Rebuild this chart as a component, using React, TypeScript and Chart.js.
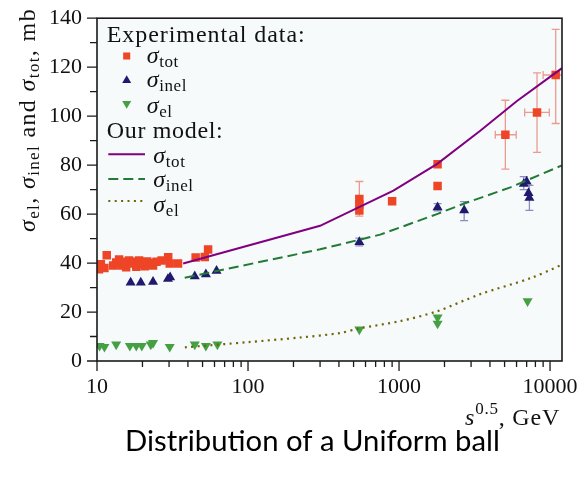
import React, { useEffect, useRef } from 'react';
import { Chart, registerables } from 'chart.js';

Chart.register(...registerables);

// ---------------- ticks ----------------
const X_TICK_LABELS = [10, 100, 1000, 10000];
const Y_TICK_LABELS = [0, 20, 40, 60, 80, 100, 120, 140];
const Y_MINOR_TICKS = [10, 30, 50, 70, 90, 110, 130];
const X_MIN = 10;
const X_MAX = 12000;

// ---------------- experimental data ----------------
const totExpX = [10.3, 10.6, 11.2, 11.6, 12.8, 13.4, 14.0, 14.5, 15.2, 15.6, 16.3, 16.9, 17.6, 18.2, 19.0, 19.7, 20.7, 21.5, 22.4, 23.5, 24.8, 26.8, 29.6, 30.3, 34.4, 45.0, 51.7, 54.4, 546, 546, 546, 900, 1800, 1800, 5060, 8200, 10900];
const totExpY = [37.5, 39.5, 38.0, 43.2, 39.0, 40.2, 41.5, 39.0, 40.5, 38.3, 41.0, 39.8, 40.5, 38.5, 41.0, 39.5, 38.7, 40.6, 40.0, 39.0, 40.5, 41.0, 42.4, 39.8, 39.8, 42.3, 42.5, 45.5, 66.2, 63.9, 61.5, 65.2, 80.4, 71.5, 92.4, 101.5, 116.8];

const inelExpX = [16.7, 19.5, 23.5, 29.5, 30.5, 44.4, 52.6, 61.9, 546, 1800, 2700, 6700, 7000, 7200, 7300];
const inelExpY = [32.0, 32.0, 32.3, 33.5, 34.2, 34.6, 35.4, 36.8, 48.6, 62.8, 61.5, 72.3, 73.3, 68.6, 66.6];

const elExpX = [10.4, 11.2, 13.4, 16.5, 18.2, 19.8, 22.7, 23.5, 30.3, 44.4, 52.6, 62.7, 546, 1800, 1800, 7100];
const elExpY = [6.2, 5.8, 6.8, 6.2, 6.2, 6.2, 6.8, 7.4, 5.8, 6.8, 6.2, 6.8, 12.9, 17.8, 15.3, 24.4];

// error bars
const totErrX = [546, 5060, 8200, 10900];
const totErrY = [66.2, 92.4, 101.5, 116.8];
const totErrYLo = [59.2, 78.4, 85.2, 97.0];
const totErrYHi = [73.3, 106.5, 117.7, 135.4];
const totErrXLo = [546, 4340, 6790, 9000];
const totErrXHi = [546, 5970, 9890, 14000];

const inelErrX = [546, 1800, 2700, 6700, 7300];
const inelErrYLo = [47.0, 61.3, 57.3, 70.0, 61.5];
const inelErrYHi = [50.2, 64.3, 65.1, 75.3, 71.7];

// ---------------- model curves ----------------
const modelTotX = [37.2, 300, 918, 1790, 3450, 6040, 12000];
const modelTotY = [39.8, 55.2, 69.6, 80.5, 94.0, 106.2, 119.6];

const modelInelX = [38.1, 300, 750, 1800, 2700, 5460, 12000];
const modelInelY = [34.0, 45.6, 51.6, 60.1, 64.3, 70.9, 79.9];

const modelElX = [38.2, 100, 221, 406, 535, 1016, 1787, 3448, 7395, 12000];
const modelElY = [5.6, 7.7, 9.6, 11.4, 13.2, 16.3, 20.3, 27.3, 33.8, 39.3];

const CAPTION = 'Distribution of a Uniform ball';

// ---------------- styles ----------------
const RED = '#ee4527';
const RED_ERR = '#eb9a8f';
const NAVY = '#1f1a6e';
const NAVY_ERR = '#8c8cc0';
const GREEN = '#45a043';
const PURPLE = '#800080';
const DASH_GREEN = '#237a35';
const OLIVE = '#6e6400';
const PLOT_BG = '#f6fafb';
const SERIF = '"Liberation Serif", "Times New Roman", serif';

type Seg = [string, 'n' | 'i' | 'b' | 'p'];

function fontOf(kind: string, size: number) {
  const small = kind === 'b' || kind === 'p';
  const s = small ? Math.round(size * 0.7) : size;
  return `${kind === 'i' ? 'italic ' : ''}${s}px ${SERIF}`;
}

function segsWidth(ctx: CanvasRenderingContext2D, segs: Seg[], size: number, ls: number) {
  let w = 0;
  for (const [t, k] of segs) {
    ctx.font = fontOf(k, size);
    for (const ch of t) w += ctx.measureText(ch).width + ls;
  }
  return w;
}

function segsCount(segs: Seg[]) {
  return segs.reduce((n, s) => n + Array.from(s[0]).length, 0);
}

function drawSegs(ctx: CanvasRenderingContext2D, segs: Seg[], x: number, y: number, size: number, target?: number) {
  let ls = 0.6;
  if (target) {
    const w0 = segsWidth(ctx, segs, size, 0);
    ls = Math.max(0, Math.min(2.5, (target - w0) / segsCount(segs)));
  }
  let cx = x;
  for (const [t, k] of segs) {
    ctx.font = fontOf(k, size);
    const dy = k === 'b' ? size * 0.17 : k === 'p' ? -size * 0.45 : 0;
    for (const ch of t) {
      ctx.fillText(ch, cx, y + dy);
      cx += ctx.measureText(ch).width + ls;
    }
  }
  return cx - x;
}

function marker(ctx: CanvasRenderingContext2D, style: string, x: number, y: number, r: number, color: string) {
  ctx.fillStyle = color;
  ctx.beginPath();
  const s60 = Math.sin(Math.PI / 3);
  if (style === 'rect') {
    const s = r * Math.SQRT1_2;
    ctx.rect(x - s, y - s, 2 * s, 2 * s);
  } else if (style === 'up') {
    ctx.moveTo(x, y - r);
    ctx.lineTo(x + r * s60, y + r / 2);
    ctx.lineTo(x - r * s60, y + r / 2);
  } else {
    ctx.moveTo(x, y + r);
    ctx.lineTo(x + r * s60, y - r / 2);
    ctx.lineTo(x - r * s60, y - r / 2);
  }
  ctx.closePath();
  ctx.fill();
}

const pts = (xs: number[], ys: number[]) => xs.map((x, i) => ({ x, y: ys[i] }));

const decorPlugin = {
  id: 'decor',
  beforeDraw(chart: any) {
    const { ctx, chartArea: a } = chart;
    ctx.save();
    ctx.fillStyle = '#ffffff';
    ctx.fillRect(0, 0, chart.width, chart.height);
    ctx.fillStyle = PLOT_BG;
    ctx.fillRect(a.left, a.top, a.right - a.left, a.bottom - a.top);
    ctx.restore();
  },
  beforeDatasetsDraw(chart: any) {
    const { ctx, chartArea: a } = chart;
    const xs = chart.scales.x;
    const ys = chart.scales.y;
    ctx.save();
    ctx.beginPath();
    ctx.rect(a.left, a.top, a.right - a.left, a.bottom - a.top);
    ctx.clip();
    ctx.lineWidth = 1.3;
    const cap = 4;
    ctx.strokeStyle = RED_ERR;
    totErrX.forEach((xv, i) => {
      const px = xs.getPixelForValue(xv);
      const py = ys.getPixelForValue(totErrY[i]);
      const lo = ys.getPixelForValue(totErrYLo[i]);
      const hi = ys.getPixelForValue(totErrYHi[i]);
      ctx.beginPath();
      ctx.moveTo(px, lo); ctx.lineTo(px, hi);
      ctx.moveTo(px - cap, lo); ctx.lineTo(px + cap, lo);
      ctx.moveTo(px - cap, hi); ctx.lineTo(px + cap, hi);
      if (totErrXLo[i] !== totErrXHi[i]) {
        const l = xs.getPixelForValue(totErrXLo[i]);
        const r = xs.getPixelForValue(totErrXHi[i]);
        ctx.moveTo(l, py); ctx.lineTo(r, py);
        ctx.moveTo(l, py - cap); ctx.lineTo(l, py + cap);
        ctx.moveTo(r, py - cap); ctx.lineTo(r, py + cap);
      }
      ctx.stroke();
    });
    ctx.strokeStyle = NAVY_ERR;
    inelErrX.forEach((xv, i) => {
      const px = xs.getPixelForValue(xv);
      const lo = ys.getPixelForValue(inelErrYLo[i]);
      const hi = ys.getPixelForValue(inelErrYHi[i]);
      ctx.beginPath();
      ctx.moveTo(px, lo); ctx.lineTo(px, hi);
      ctx.moveTo(px - cap, lo); ctx.lineTo(px + cap, lo);
      ctx.moveTo(px - cap, hi); ctx.lineTo(px + cap, hi);
      ctx.stroke();
    });
    ctx.restore();
  },
  afterDraw(chart: any) {
    const { ctx, chartArea: a } = chart;
    const xs = chart.scales.x;
    const ys = chart.scales.y;
    ctx.save();
    ctx.strokeStyle = '#1a1a1a';
    ctx.lineWidth = 1.6;
    ctx.strokeRect(a.left, a.top, a.right - a.left, a.bottom - a.top);
    ctx.lineWidth = 1.3;
    ctx.beginPath();
    for (let d = 10; d <= X_MAX; d *= 10) {
      for (let m = 1; m <= 9; m++) {
        const v = m * d;
        if (v < X_MIN || v > X_MAX) continue;
        const px = xs.getPixelForValue(v);
        const len = X_TICK_LABELS.includes(v) ? 10 : 6;
        ctx.moveTo(px, a.bottom);
        ctx.lineTo(px, a.bottom + len);
      }
    }
    Y_TICK_LABELS.forEach((v) => {
      const py = ys.getPixelForValue(v);
      ctx.moveTo(a.left - 10, py); ctx.lineTo(a.left, py);
    });
    Y_MINOR_TICKS.forEach((v) => {
      const py = ys.getPixelForValue(v);
      ctx.moveTo(a.left - 7, py); ctx.lineTo(a.left, py);
    });
    ctx.stroke();

    ctx.fillStyle = '#111';
    ctx.textBaseline = 'alphabetic';
    ctx.textAlign = 'left';

    // legend
    drawSegs(ctx, [['Experimental data:', 'n']], 106.7, 42.3, 24, 199);
    marker(ctx, 'rect', 126.7, 56, 5, RED);
    marker(ctx, 'up', 126.7, 80.5, 5.2, NAVY);
    marker(ctx, 'down', 126.7, 103.5, 5.2, GREEN);
    ctx.fillStyle = '#111';
    drawSegs(ctx, [['σ', 'i'], ['tot', 'b']], 146.7, 63, 24);
    drawSegs(ctx, [['σ', 'i'], ['inel', 'b']], 146.7, 87, 24);
    drawSegs(ctx, [['σ', 'i'], ['el', 'b']], 146.7, 113, 24);
    drawSegs(ctx, [['Our model:', 'n']], 106.7, 138.3, 24, 116.7);

    ctx.lineWidth = 2;
    ctx.strokeStyle = PURPLE;
    ctx.setLineDash([]);
    ctx.beginPath(); ctx.moveTo(108.3, 154.3); ctx.lineTo(145, 154.3); ctx.stroke();
    ctx.strokeStyle = DASH_GREEN;
    ctx.setLineDash([10, 5]);
    ctx.beginPath(); ctx.moveTo(108.3, 179); ctx.lineTo(145, 179); ctx.stroke();
    ctx.strokeStyle = OLIVE;
    ctx.lineWidth = 2.2;
    ctx.setLineDash([2, 4.4]);
    ctx.beginPath(); ctx.moveTo(108.3, 201); ctx.lineTo(145, 201); ctx.stroke();
    ctx.setLineDash([]);

    ctx.fillStyle = '#111';
    drawSegs(ctx, [['σ', 'i'], ['tot', 'b']], 153.3, 163, 24);
    drawSegs(ctx, [['σ', 'i'], ['inel', 'b']], 153.3, 186.5, 24);
    drawSegs(ctx, [['σ', 'i'], ['el', 'b']], 153.3, 211.5, 24);

    // y axis title (rotated)
    ctx.save();
    ctx.translate(35, 232);
    ctx.rotate(-Math.PI / 2);
    drawSegs(
      ctx,
      [['σ', 'i'], ['el', 'b'], [', ', 'n'], ['σ', 'i'], ['inel', 'b'], [' and ', 'n'], ['σ', 'i'], ['tot', 'b'], [', mb', 'n']],
      0, 0, 24, 224
    );
    ctx.restore();

    // x axis title
    drawSegs(ctx, [['s', 'i'], ['0.5', 'p'], [', GeV', 'n']], 465, 425, 24, 95);

    // caption
    ctx.font = '24px Lato';
    const w = ctx.measureText(CAPTION).width;
    const size = Math.max(18, Math.min(34, 24 * 375 / w));
    ctx.font = `${size}px Lato`;
    ctx.fillStyle = '#000';
    ctx.fillText(CAPTION, 125, 451);
    ctx.restore();
  },
};

export default function App() {
  const ref = useRef<HTMLCanvasElement>(null);
  useEffect(() => {
    const canvas = ref.current;
    if (!canvas) return;
    const tickFont = { family: SERIF, size: 22 };
    const chart = new Chart(canvas, {
      type: 'scatter',
      data: {
        datasets: [
          { label: 'model tot', data: pts(modelTotX, modelTotY), showLine: true, borderColor: PURPLE, borderWidth: 2, pointRadius: 0, tension: 0, fill: false },
          { label: 'model inel', data: pts(modelInelX, modelInelY), showLine: true, borderColor: DASH_GREEN, borderWidth: 2, borderDash: [10, 5], pointRadius: 0, tension: 0, fill: false },
          { label: 'model el', data: pts(modelElX, modelElY), showLine: true, borderColor: OLIVE, borderWidth: 2.2, borderDash: [2, 4.4], pointRadius: 0, tension: 0.3, fill: false },
          { label: 'exp tot', data: pts(totExpX, totExpY), showLine: false, pointStyle: 'rect', pointRadius: 6, backgroundColor: RED, borderWidth: 0 },
          { label: 'exp inel', data: pts(inelExpX, inelExpY), showLine: false, pointStyle: 'triangle', pointRadius: 5.8, backgroundColor: NAVY, borderWidth: 0 },
          { label: 'exp el', data: pts(elExpX, elExpY), showLine: false, pointStyle: 'triangle', pointRotation: 180, pointRadius: 5.8, backgroundColor: GREEN, borderWidth: 0 },
        ] as any,
      },
      options: {
        animation: false,
        responsive: false,
        devicePixelRatio: 1,
        layout: { padding: { left: 0, right: 21, top: 16, bottom: 77 } },
        plugins: { legend: { display: false }, title: { display: false }, tooltip: { enabled: false } },
        scales: {
          x: {
            type: 'logarithmic',
            min: X_MIN,
            max: X_MAX,
            afterFit: (s: any) => { s.height = 40; },
            afterBuildTicks: (s: any) => {
              const t: any[] = [];
              for (let d = 10; d <= X_MAX; d *= 10) {
                for (let m = 1; m <= 9; m++) {
                  const v = m * d;
                  if (v >= X_MIN && v <= X_MAX) t.push({ value: v, major: X_TICK_LABELS.includes(v) });
                }
              }
              s.ticks = t;
            },
            grid: { display: true, drawOnChartArea: false, drawTicks: true, tickLength: 10, tickColor: 'rgba(0,0,0,0)' },
            border: { display: false },
            ticks: {
              autoSkip: false,
              maxRotation: 0,
              padding: 3,
              color: '#111',
              font: tickFont,
              callback: (v: any) => (X_TICK_LABELS.includes(Number(v)) ? String(v) : ''),
            },
          },
          y: {
            type: 'linear',
            min: 0,
            max: 140,
            afterFit: (s: any) => { s.width = 97; },
            grid: { display: true, drawOnChartArea: false, drawTicks: true, tickLength: 10, tickColor: 'rgba(0,0,0,0)' },
            border: { display: false },
            ticks: {
              stepSize: 10,
              padding: 5,
              color: '#111',
              font: tickFont,
              callback: (v: any) => (Y_TICK_LABELS.includes(Number(v)) ? String(v) : ''),
            },
          },
        },
      } as any,
      plugins: [decorPlugin],
    });
    return () => chart.destroy();
  }, []);
  return (
    <div style={{ position: 'absolute', left: 0, top: 0, width: 583, height: 478, background: '#fff' }}>
      <canvas ref={ref} width={583} height={478} style={{ display: 'block', width: 583, height: 478 }} />
    </div>
  );
}
